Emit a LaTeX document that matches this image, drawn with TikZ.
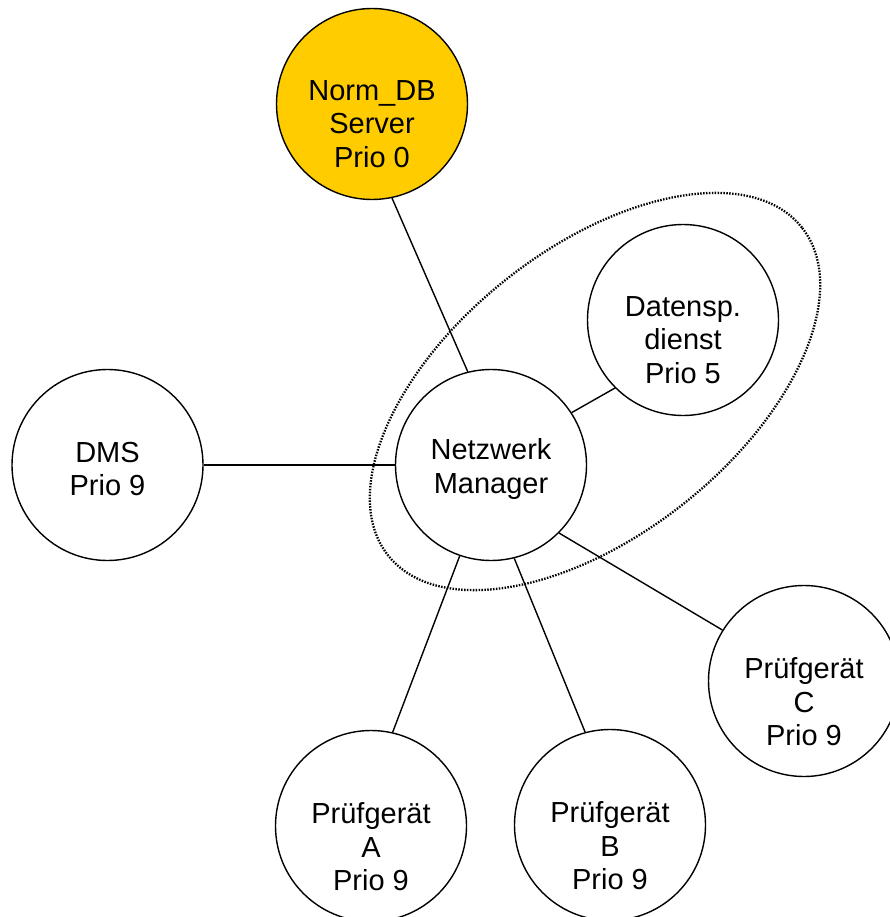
\documentclass[tikz,border=0pt]{standalone}
\usepackage{fontspec}
\setmainfont{Liberation Sans}
\usepackage{xcolor}
\usepackage{tikz}
\definecolor{dbgelb}{RGB}{255,204,0}

\begin{document}
\begin{tikzpicture}[x=1pt, y=-1pt]
\tikzstyle{knoten}=[circle, draw, line width=1.4pt, fill=white, minimum size=191pt, inner sep=0pt]
\tikzstyle{schrift}=[align=center, font=\fontsize{29}{33.5}\selectfont, inner sep=0pt]
\tikzstyle{leitung}=[line width=1.4pt]
\tikzstyle{gruppe}=[line width=2.3pt, dash pattern=on 1.5pt off 1.4pt]
\useasboundingbox (0,0) rectangle (890,917);
\clip (0,0) rectangle (890,917);

\node[knoten, fill=dbgelb] (db) at (372,104) {};
\node[knoten] (dat) at (683,320) {};
\node[knoten] (dms) at (107.5,465) {};
\node[knoten] (net) at (491,465) {};
\node[knoten] (prc) at (804,681) {};
\node[knoten] (pra) at (371,826) {};
\node[knoten] (prb) at (610,825) {};

\node[schrift, yshift=-20pt] (db-t) at (db) {Norm\_DB\\Server\\Prio 0};
\node[schrift, yshift=-20pt] (dat-t) at (dat) {Datensp.\\dienst\\Prio 5};
\node[schrift, yshift=-4pt] (dms-t) at (dms) {DMS\\Prio 9};
\node[schrift, yshift=-4pt] (net-t) at (net) {Netzwerk\\Manager};
\node[schrift, yshift=-21pt] (prc-t) at (prc) {Prüfgerät\\C\\Prio 9};
\node[schrift, yshift=-21pt] (pra-t) at (pra) {Prüfgerät\\A\\Prio 9};
\node[schrift, yshift=-21pt] (prb-t) at (prb) {Prüfgerät\\B\\Prio 9};

\path[leitung]
(net.104) edge (db.-78)
(net.180) edge (dms.0)
(net.33)  edge (dat.-135)
(net.-45) edge (prc.148)
(net.-109) edge (pra.77)
(net.-76) edge (prb.105);

\draw[gruppe, rotate around={38.4:(595,391.5)}] (595,391.5) ellipse [x radius=264pt, y radius=143pt];

\end{tikzpicture}
\end{document}
